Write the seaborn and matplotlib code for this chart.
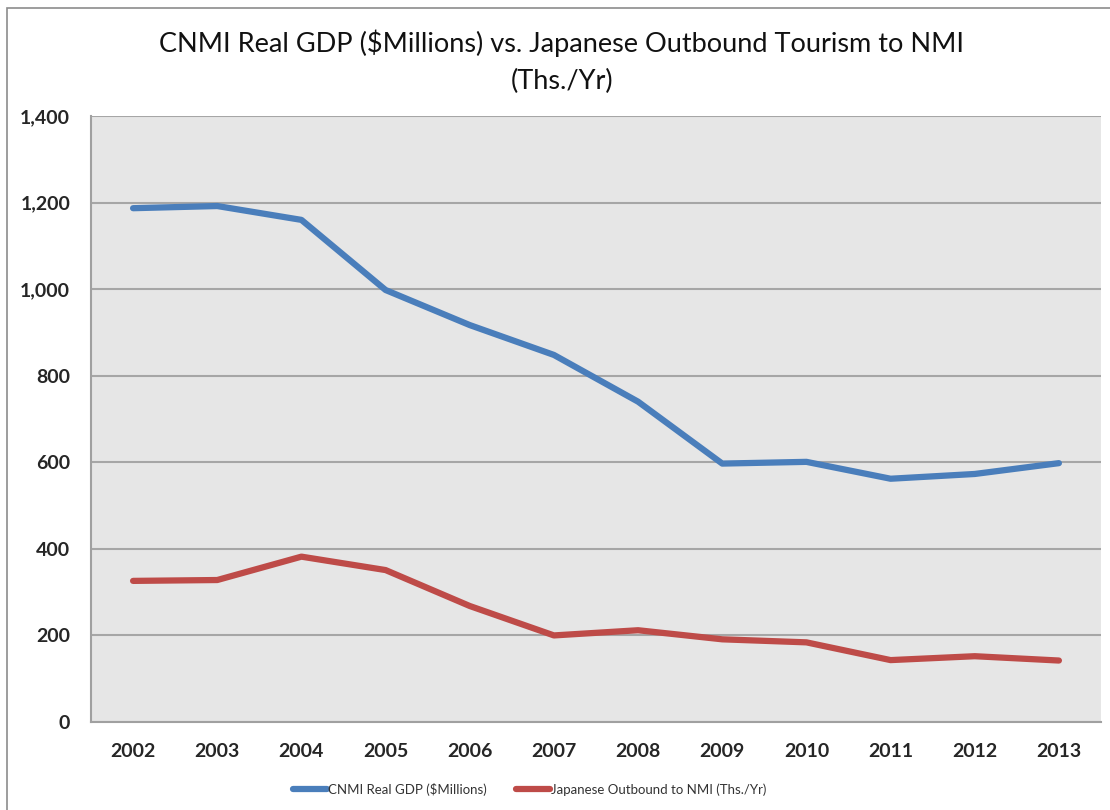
import numpy as np
import pandas as pd
import matplotlib.pyplot as plt
import seaborn as sns
from matplotlib.patches import Rectangle

# data
years = ["2002", "2003", "2004", "2005", "2006", "2007", "2008", "2009", "2010", "2011", "2012", "2013"]
gdp = [1187, 1192, 1160, 998, 917, 848, 740, 597, 601, 562, 573, 598]
tourism = [326, 328, 382, 351, 268, 200, 212, 191, 184, 143, 152, 142]
series_names = ["CNMI Real GDP ($Millions)", "Japanese Outbound to NMI (Ths./Yr)"]
colors = ["#4a7ebb", "#be4b48"]

df = pd.DataFrame({
    "year": years * 2,
    "value": gdp + tourism,
    "series": [series_names[0]] * len(years) + [series_names[1]] * len(years),
})
df["pos"] = list(range(len(years))) * 2

sns.set_theme(style="white")
plt.rcParams["font.family"] = ["Lato", "DejaVu Sans"]

fig = plt.figure(figsize=(11.1, 8.1), dpi=100)
ax = fig.add_axes([91 / 1110, 1 - 722 / 810, 1010 / 1110, 606 / 810])

# outer chart border like excel
fig.patches.append(Rectangle((7 / 1110, -0.01), 1.1, 1 - 8 / 810 + 0.01, transform=fig.transFigure,
                             fill=False, edgecolor="#8c8c8c", linewidth=1.2))

sns.lineplot(data=df, x="pos", y="value", hue="series", palette=colors, linewidth=4.5,
             ax=ax, legend=False, solid_capstyle="round")

ax.set_facecolor("#e6e6e6")
ax.set_xlim(-0.5, len(years) - 0.5)
ax.set_ylim(0, 1400)
ax.set_yticks(np.arange(0, 1401, 200))
ax.set_yticklabels([f"{v:,}" for v in range(0, 1401, 200)], fontweight="bold", fontsize=14)
ax.set_xticks(range(len(years)))
ax.set_xticklabels(years, fontweight="bold", fontsize=14)
ax.tick_params(axis="y", pad=15, length=0)
ax.tick_params(axis="x", pad=15, length=0)
ax.yaxis.grid(True, color="#a6a6a6", linewidth=1.5)
ax.set_axisbelow(True)
ax.set_xlabel("")
ax.set_ylabel("")
for s in ["top", "right"]:
    ax.spines[s].set_visible(False)
for s in ["left", "bottom"]:
    ax.spines[s].set_color("#a0a0a0")
    ax.spines[s].set_linewidth(1.5)

fig.text(0.506, 1 - 62 / 810, "CNMI Real GDP ($Millions) vs. Japanese Outbound Tourism to NMI\n(Ths./Yr)",
         ha="center", va="center", fontsize=19.5, linespacing=1.6, color="#111111")

# legend
handles = [plt.Line2D([0], [0], color=c, linewidth=4.5, solid_capstyle="round") for c in colors]
fig.legend(handles, series_names, loc="center", bbox_to_anchor=(0.477, 1 - 789 / 810), ncol=2,
           frameon=False, fontsize=9.5, handlelength=2.6, handletextpad=0.05, columnspacing=2.2,
           labelcolor="#333333")

fig.savefig("out.png", dpi=100)
